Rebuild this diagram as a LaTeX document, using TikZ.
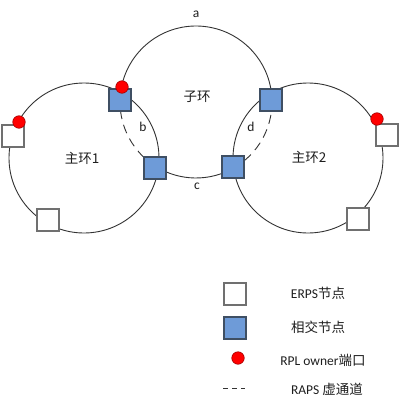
\documentclass[tikz,border=0pt]{standalone}
\usepackage{fontspec}
\setmainfont{Carlito}
\newfontfamily\cjk{Noto Sans CJK SC}
\definecolor{ringc}{HTML}{333333}
\definecolor{erpsb}{HTML}{707070}
\definecolor{xb}{HTML}{3F4F63}
\definecolor{xfill}{HTML}{6E9BD8}
\definecolor{ownerb}{HTML}{A00000}
\definecolor{txt}{HTML}{1E1E1E}
\begin{document}
\begin{tikzpicture}[x=1pt,y=-1pt,
  ring/.style={draw=ringc, line width=0.9pt},
  raps/.style={ring, dash pattern=on 9pt off 6pt},
  erps/.style={rectangle, draw=erpsb, fill=white, line width=1.4pt, minimum size=22pt, inner sep=0pt},
  xnode/.style={rectangle, draw=xb, fill=xfill, line width=1.2pt, minimum size=22pt, inner sep=0pt},
  owner/.style={circle, draw=ownerb, fill=red, minimum size=12.5pt, inner sep=0pt, line width=0.6pt},
  lbl/.style={font=\fontsize{13.5}{16}\selectfont, text=txt, inner sep=0pt}]
\useasboundingbox (0,0) rectangle (400,407);
% rings
\draw[ring] (84,158) circle[radius=75];
\draw[ring] (308,158) circle[radius=75];
\draw[ring] (196,102) ++(181.5:76) arc[start angle=181.5, end angle=358.5, radius=76];
\draw[ring] (196,102) ++(60.4:76) arc[start angle=60.4, end angle=121.8, radius=76];
\draw[raps] (196,102) ++(121.8:76) arc[start angle=121.8, end angle=181.5, radius=76];
\draw[raps] (196,102) ++(-1.5:76) arc[start angle=-1.5, end angle=60.4, radius=76];
% nodes
\node[xnode] (x1) at (120,100) {};
\node[xnode] (x2) at (155,168) {};
\node[xnode] (x3) at (233,167) {};
\node[xnode] (x4) at (271,100) {};
\node[erps] (e1) at (13,136) {};
\node[erps] (e2) at (48,220) {};
\node[erps] (e3) at (387,135) {};
\node[erps] (e4) at (358,219) {};
\node[owner] (o1) at (122,87) {};
\node[owner] (o2) at (19,122) {};
\node[owner] (o3) at (377,119) {};
% labels
\node[lbl] (la) at (196,14) {a};
\node[lbl] (lsub) at (197,97) {\cjk 子环};
\node[lbl] (lb) at (143,127) {b};
\node[lbl] (lc) at (197,186) {c};
\node[lbl] (ld) at (251,127) {d};
\node[lbl] (lm1) at (82,158) {\cjk 主环1};
\node[lbl] (lm2) at (309,157) {\cjk 主环2};
% legend
\node[erps] (le) at (235,294) {};
\node[xnode] (lx) at (235,328) {};
\node[owner] (lo) at (238,358) {};
\coordinate (ld1) at (223,388);
\coordinate (ld2) at (245,388);
\draw[ring, dash pattern=on 5pt off 4pt] (ld1) -- (ld2);
\node[lbl] (te) at (318,293) {ERPS{\cjk 节点}};
\node[lbl] (tx) at (318,327) {\cjk 相交节点};
\node[lbl] (to) at (323,360) {RPL owner{\cjk 端口}};
\node[lbl] (tr) at (327,389) {RAPS {\cjk 虚通道}};
\end{tikzpicture}
\end{document}
